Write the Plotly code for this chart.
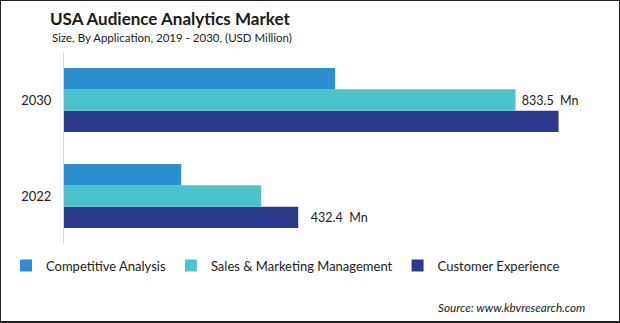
import plotly.graph_objects as go

# Market size by application (USD Million)
years = ["2022", "2030"]
competitive_analysis = [216.4, 500.6]
sales_marketing = [364.0, 833.5]
customer_experience = [432.4, 913.0]

series_names = ["Competitive Analysis", "Sales & Marketing Management", "Customer Experience"]
series_colors = ["#2B8ECF", "#4CC2CC", "#2C3A8E"]

# value labels shown only on selected bars
sales_labels = ["", "\u00a0%{x:.1f}\u00a0\u00a0Mn"]
cx_labels = ["\u00a0\u00a0\u00a0%{x:.1f}\u00a0\u00a0Mn", ""]
no_labels = ["", ""]

W, H = 620, 323
ML, MR, MT, MB = 64, 20, 52, 79
PW = W - ML - MR
PH = H - MT - MB
X_MAX = 989.5


def px_to_paper_x(px):
    return (px - ML) / PW


def px_to_paper_y(py):
    return 1 - (py - MT) / PH


FONT = "Lato, 'Open Sans', sans-serif"

fig = go.Figure()
# traces added bottom-up so the first series sits on top of each group
for name, vals, color, labels in [
    (series_names[2], customer_experience, series_colors[2], cx_labels),
    (series_names[1], sales_marketing, series_colors[1], sales_labels),
    (series_names[0], competitive_analysis, series_colors[0], no_labels),
]:
    fig.add_trace(go.Bar(
        name=name,
        y=years,
        x=vals,
        orientation="h",
        marker=dict(color=color, line=dict(width=0)),
        texttemplate=labels,
        textposition="outside",
        textfont=dict(family=FONT, size=12.5, color="#222222"),
        cliponaxis=False,
        hoverinfo="skip",
    ))

fig.update_layout(
    width=W,
    height=H,
    margin=dict(l=ML, r=MR, t=MT, b=MB, pad=0, autoexpand=False),
    paper_bgcolor="white",
    plot_bgcolor="white",
    barmode="group",
    bargap=1 / 3,
    bargroupgap=0,
    font=dict(family=FONT, color="#222222"),
    showlegend=True,
    legend=dict(
        orientation="h",
        traceorder="reversed",
        x=px_to_paper_x(6),
        xanchor="left",
        y=px_to_paper_y(265.6),
        yanchor="middle",
        font=dict(family=FONT, size=13, color="#222222"),
        bgcolor="rgba(0,0,0,0)",
    ),
    title=dict(
        text="<b>USA Audience Analytics Market</b>",
        x=50 / W,
        xanchor="left",
        xref="container",
        y=1 - 19.5 / H,
        yanchor="middle",
        yref="container",
        font=dict(family=FONT, size=17, color="#1a1a1a"),
    ),
    xaxis=dict(
        range=[0, X_MAX],
        showgrid=False,
        zeroline=False,
        showline=False,
        showticklabels=False,
        ticks="",
        fixedrange=True,
    ),
    yaxis=dict(
        type="category",
        categoryorder="array",
        categoryarray=years,
        showgrid=False,
        zeroline=False,
        showline=True,
        linecolor="#D9D9D9",
        linewidth=1,
        ticks="",
        ticklabelstandoff=9,
        tickfont=dict(family=FONT, size=13, color="#222222"),
        fixedrange=True,
        automargin=False,
    ),
    annotations=[
        dict(
            text="Size, By Application, 2019 - 2030, (USD Million)",
            xref="paper", yref="paper",
            x=px_to_paper_x(50), y=px_to_paper_y(37.5),
            xanchor="left", yanchor="middle",
            showarrow=False,
            font=dict(family=FONT, size=11.5, color="#222222"),
        ),
        dict(
            text="<i>Source: www.kbvresearch.com</i>",
            xref="paper", yref="paper",
            x=px_to_paper_x(587), y=px_to_paper_y(307),
            xanchor="right", yanchor="middle",
            showarrow=False,
            font=dict(family=FONT, size=11.7, color="#222222"),
        ),
    ],
    shapes=[
        dict(
            type="rect",
            xref="paper", yref="paper",
            x0=px_to_paper_x(0), x1=px_to_paper_x(W),
            y0=px_to_paper_y(322), y1=px_to_paper_y(0),
            line=dict(color="#222222", width=2),
            fillcolor="rgba(0,0,0,0)",
            layer="above",
        )
    ],
)

fig.write_html("out.html")
